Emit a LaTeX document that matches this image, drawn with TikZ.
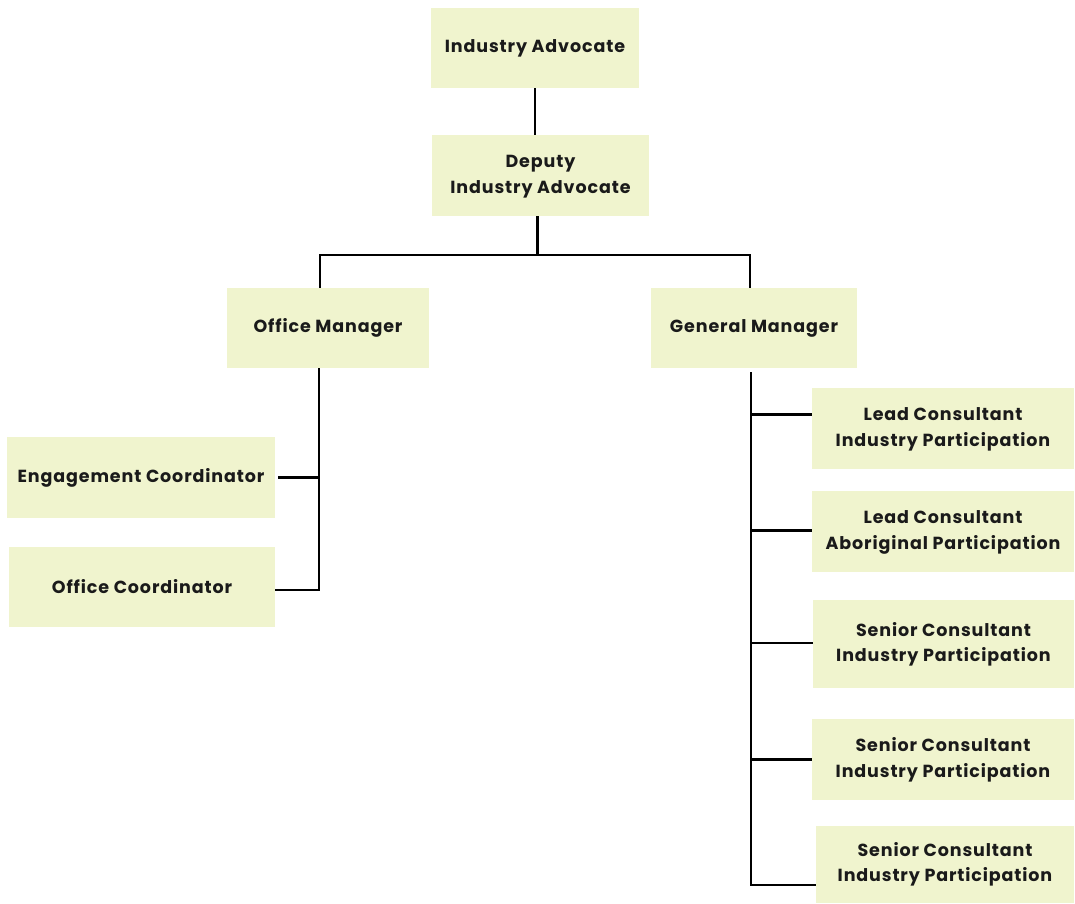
\documentclass[tikz,border=0pt]{standalone}
\usepackage{fontspec}
\setmainfont{Poppins}[LetterSpace=5]
\definecolor{boxfill}{HTML}{F0F4CE}
\definecolor{txt}{HTML}{1A1A1A}
\newcommand{\rolelines}[1]{\raisebox{-2pt}{\begin{tabular}{@{}c@{}}#1\end{tabular}}}
\begin{document}
\begin{tikzpicture}[x=1pt,y=-1pt,
  role/.style={fill=boxfill, draw=none, inner sep=0pt, align=center,
    text=txt, font=\fontsize{17.5}{25.5}\selectfont\bfseries},
  link/.style={draw=black, line width=2.4pt, line join=miter}]
\useasboundingbox (0,0) rectangle (1075,903);
\fill[white] (0,0) rectangle (1075,903);

\node[role, minimum width=208, minimum height=80] (ia) at (535,48) {\raisebox{-2pt}{Industry Advocate}};
\node[role, minimum width=217, minimum height=81] (dia) at (540.5,175.5) {\rolelines{Deputy\\Industry Advocate}};
\node[role, minimum width=202, minimum height=80] (om) at (328,328) {\raisebox{-2pt}{Office Manager}};
\node[role, minimum width=206, minimum height=80] (gm) at (754,328) {\raisebox{-2pt}{General Manager}};
\node[role, minimum width=268, minimum height=81] (ec) at (141,477.5) {\raisebox{-2pt}{Engagement Coordinator}};
\node[role, minimum width=266, minimum height=80] (oc) at (142,587) {\raisebox{-2pt}{Office Coordinator}};
\node[role, minimum width=262, minimum height=81] (lci) at (943,428.5) {\rolelines{Lead Consultant\\Industry Participation}};
\node[role, minimum width=262, minimum height=81] (lca) at (943,531.5) {\rolelines{Lead Consultant\\Aboriginal Participation}};
\node[role, minimum width=261, minimum height=88] (sc1) at (943.5,644) {\rolelines{Senior Consultant\\Industry Participation}};
\node[role, minimum width=262, minimum height=81] (sc2) at (943,759.5) {\rolelines{Senior Consultant\\Industry Participation}};
\node[role, minimum width=258, minimum height=77] (sc3) at (945,864) {\rolelines{Senior Consultant\\Industry Participation}};

\coordinate (top) at (537,255);
\coordinate (lbus) at (319,590);
\coordinate (rbus) at (751,885);

\draw[link] (ia.south) -- (dia.north -| ia.south);
\draw[link] ([xshift=-3]dia.south) -- ([xshift=-3]dia.south |- top);
\draw[link] ([xshift=-8]om.north) |- (top) -| ([xshift=-4]gm.north);
\draw[link] (om.south -| lbus) -- (lbus) -- (lbus -| oc.east);
\draw[link] (lbus |- ec.east) -- ([xshift=3]ec.east);
\draw[link] ([yshift=-4]gm.south -| rbus) -- (rbus) -- (rbus -| sc3.west);
\draw[link] ([yshift=14]lci.west -| rbus) -- ([yshift=14]lci.west);
\draw[link] ([yshift=1]lca.west -| rbus) -- ([yshift=1]lca.west);
\draw[link] ([yshift=1]sc1.west -| rbus) -- ([yshift=1]sc1.west);
\draw[link] (sc2.west -| rbus) -- (sc2.west);
\end{tikzpicture}
\end{document}
